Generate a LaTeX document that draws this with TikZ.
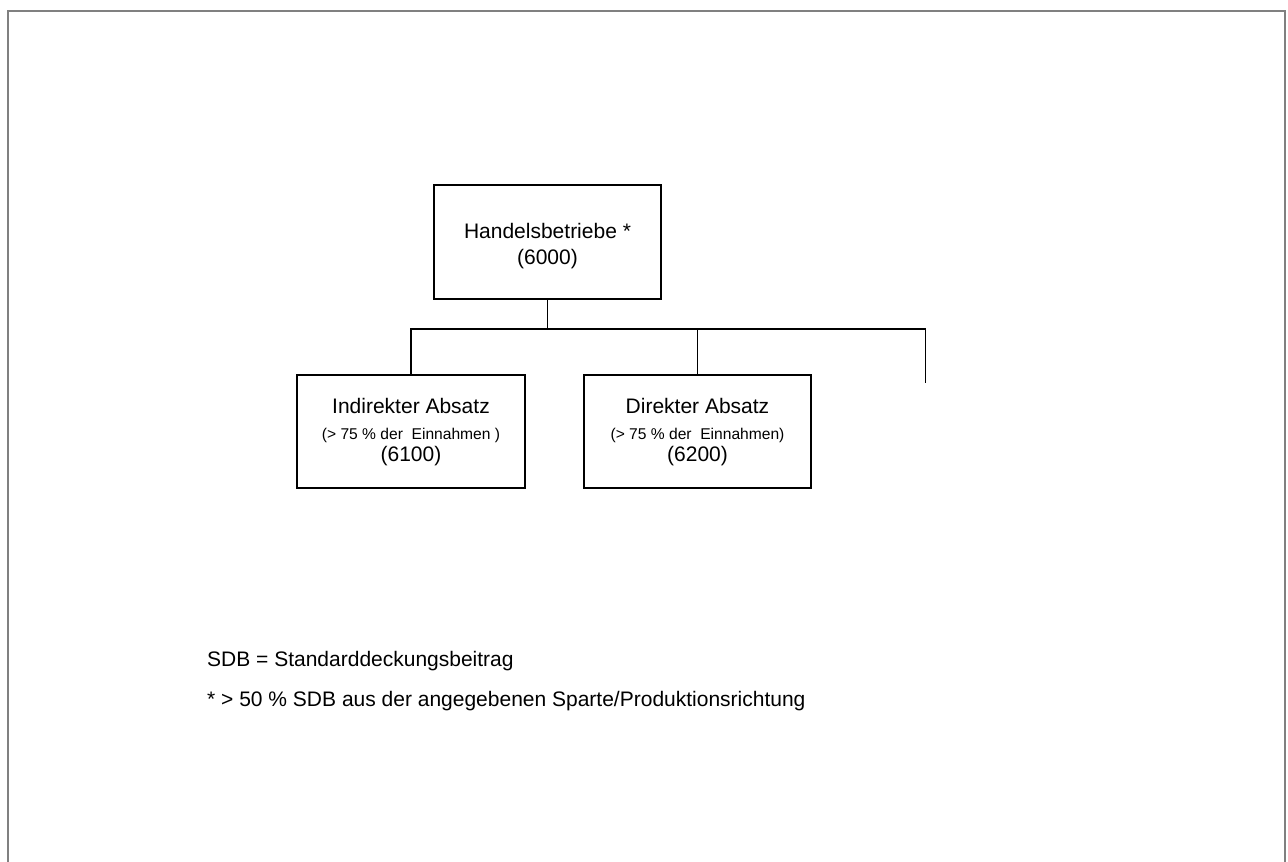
\documentclass[tikz,border=0pt]{standalone}
\usepackage{fontspec}
\setmainfont{Liberation Sans}
\begin{document}
\begin{tikzpicture}[x=1pt,y=-1pt,
  box/.style={draw=black, line width=1.8pt, minimum width=#1, minimum height=113pt, inner sep=0pt},
  big/.style={anchor=base, font=\fontsize{21}{25}\selectfont, inner sep=0pt},
  small/.style={anchor=base, font=\fontsize{15.6}{18}\selectfont, inner sep=0pt},
  note/.style={anchor=base west, font=\fontsize{21}{25}\selectfont, inner sep=0pt},
  conn/.style={draw=black, line width=1.8pt},
  frame/.style={draw=black!50, line width=2pt}]
\useasboundingbox (0,0) rectangle (1288,862);
% outer frame
\draw[frame] (7.8,862) -- (7.8,11) -- (1285,11) -- (1285,862);

% boxes
\node[box=227pt, minimum height=114pt] (top) at (547.5,242) {};
\node[box=228pt] (left) at (411,431.5) {};
\node[box=227pt] (right) at (697.5,431.5) {};

% texts
\node[big] (topa) at (547.5,238.3) {Handelsbetriebe *};
\node[big] (topb) at (547.5,264) {(6000)};
\node[big] (lefta) at (411,413.3) {Indirekter Absatz};
\node[small] (leftb) at (411,439.3) {(> 75 \% der \ Einnahmen )};
\node[big] (leftc) at (411,461.7) {(6100)};
\node[big] (righta) at (697.5,413.3) {Direkter Absatz};
\node[small] (rightb) at (697.5,439.3) {(> 75 \% der \ Einnahmen)};
\node[big] (rightc) at (697.5,461.7) {(6200)};

% connectors
\coordinate (j) at (547.5,329);
\coordinate (jr) at (925.5,329);
\coordinate (fe) at (925.5,382.7);
\draw[conn] (top.south) -- (j);
\draw[conn] (left.north) |- (jr) -- (fe);
\draw[conn] (right.north) -- (right.north |- j);

% footnotes
\node[note] (n1) at (207,666.7) {SDB = Standarddeckungsbeitrag};
\node[note] (n2) at (207,706.7) {* > 50 \% SDB aus der angegebenen Sparte/Produktionsrichtung};
\end{tikzpicture}
\end{document}
